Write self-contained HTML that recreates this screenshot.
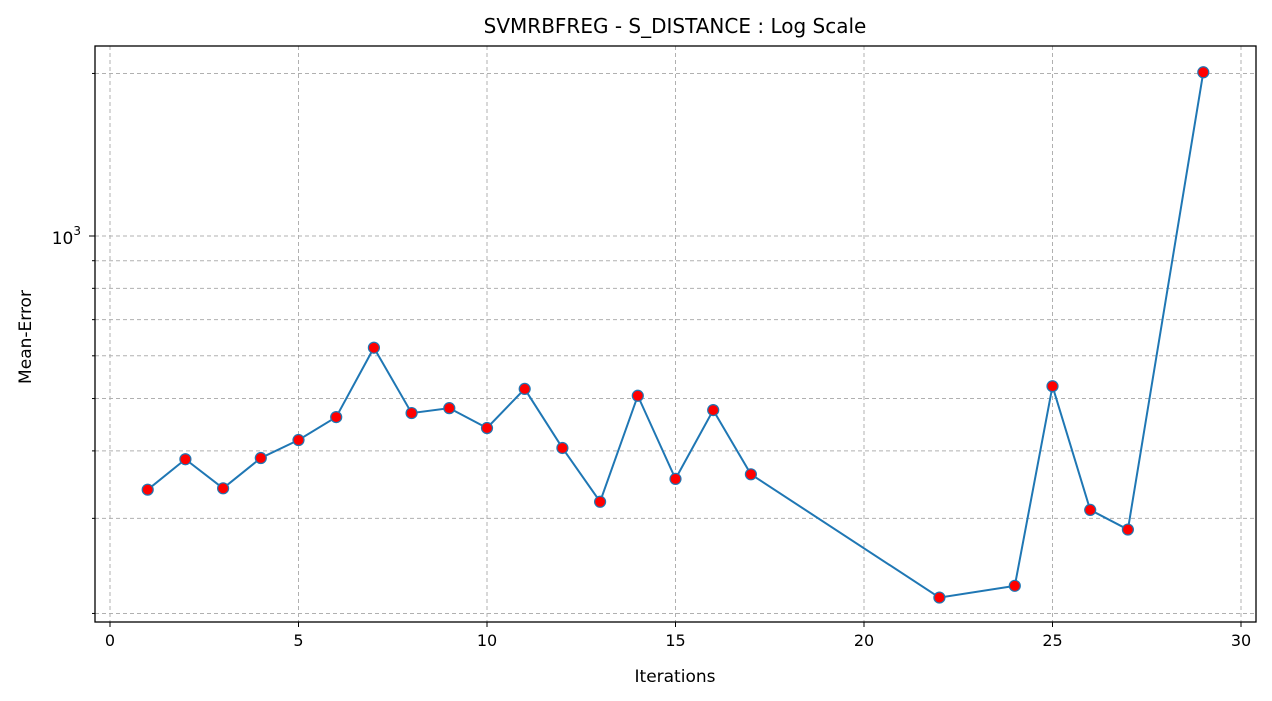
<!DOCTYPE html>
<html><head><meta charset="utf-8"><style>
body{margin:0;background:#fff;}
svg{display:block;font-family:"DejaVu Sans","Liberation Sans",sans-serif;}
</style></head><body>
<svg id="chart" width="1272" height="701" xmlns="http://www.w3.org/2000/svg">
<rect width="1272" height="701" fill="#fff"/>
<text x="675" y="33" text-anchor="middle" font-size="20" fill="#000">SVMRBFREG - S_DISTANCE : Log Scale</text>
<text x="675" y="682" text-anchor="middle" font-size="17" fill="#000">Iterations</text>
<text transform="translate(31,337) rotate(-90)" text-anchor="middle" font-size="17" fill="#000">Mean-Error</text>
<g id="grid"></g>
<g id="ticks"></g>
<g id="series"></g>
<rect x="95" y="46" width="1161" height="576" fill="none" stroke="#000" stroke-width="1.3"/>
</svg>
<script>
const iterations=[1,2,3,4,5,6,7,8,9,10,11,12,13,14,15,16,17,22,24,25,26,27,29];
const meanError=[339,386,341,388,419,462,621,470,480,441,521,405,322,506,355,476,362,214,225,527,311,286,2010];
const xTicks=[0,5,10,15,20,25,30];
const yMinorTicks=[200,300,400,500,600,700,800,900,2000];
const yMajorTicks=[1000];
const L=95,R=1256,T=46,B=622;
const x=v=>110+(v)*(1241-110)/30;
const y=v=>236-(Math.log10(v)-3)*540;
const NS="http://www.w3.org/2000/svg";
function mk(tag,attrs,parent){const e=document.createElementNS(NS,tag);for(const k in attrs)e.setAttribute(k,attrs[k]);parent.appendChild(e);return e;}
const grid=document.getElementById('grid'),ticks=document.getElementById('ticks'),ser=document.getElementById('series');
xTicks.forEach(t=>{const px=x(t);
 const g=mk('line',{x1:px,x2:px,y1:T,y2:B,stroke:'#b0b0b0','stroke-dasharray':'4,3','stroke-width':1},grid);
 
 
 mk('line',{x1:px,x2:px,y1:B,y2:B+5,stroke:'#000'},ticks);
 const tx=mk('text',{x:px,y:B+24,'text-anchor':'middle','font-size':16},ticks);tx.textContent=t;
 
 
});
yMinorTicks.concat(yMajorTicks).forEach(t=>{const py=y(t);
 const g=mk('line',{x1:L,x2:R,y1:py,y2:py,stroke:'#b0b0b0','stroke-dasharray':'4,3','stroke-width':1},grid);
 
 
 const major=yMajorTicks.includes(t);
 mk('line',{x1:L-(major?6:3),x2:L,y1:py,y2:py,stroke:'#000'},ticks);
});
yMajorTicks.forEach(t=>{const tx=mk('text',{x:L-14,y:y(t)+8,'text-anchor':'end','font-size':17},ticks);
 tx.innerHTML='10<tspan dy="-9" font-size="12">3</tspan>';
 
 
});
const pts=iterations.map((v,i)=>x(v)+','+y(meanError[i])).join(' ');
const pl=mk('polyline',{points:pts,fill:'none',stroke:'#1f77b4','stroke-width':2},ser);


iterations.forEach((v,i)=>{const c=mk('circle',{cx:x(v),cy:y(meanError[i]),r:5.5,fill:'#ff0000',stroke:'#1f77b4','stroke-width':1.2},ser);
 
 
});
</script>
</body></html>
